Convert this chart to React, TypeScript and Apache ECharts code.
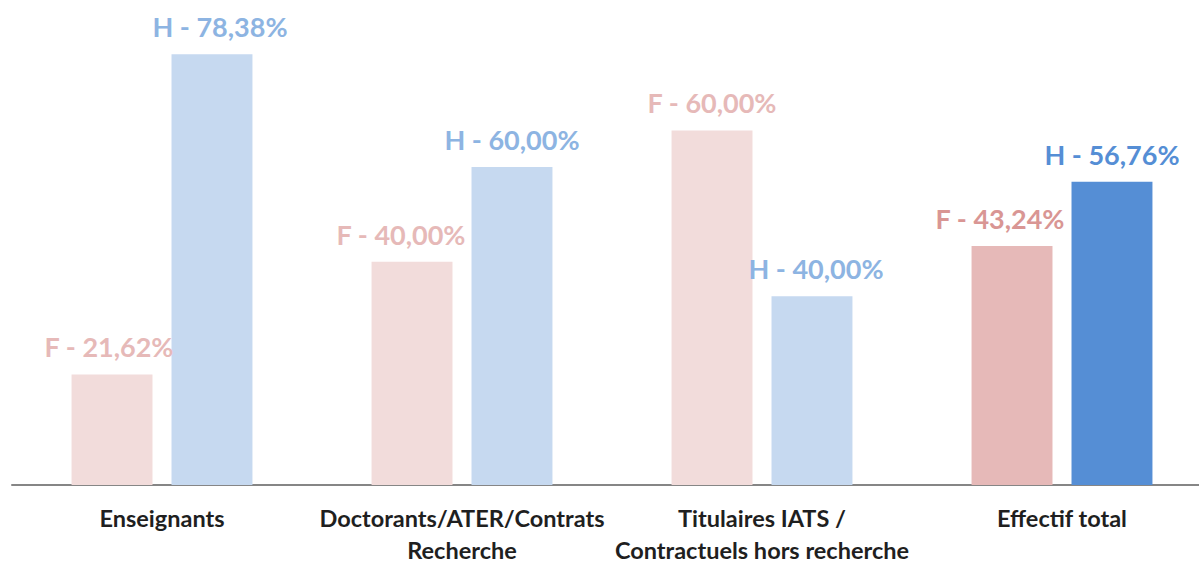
import React, { useEffect, useRef } from "react";
import * as echarts from "echarts";

const categories = [
  "Enseignants",
  "Doctorants/ATER/Contrats\nRecherche",
  "Titulaires IATS /\nContractuels hors recherche",
  "Effectif total",
];
// bar heights as drawn in the picture (chart units, 78.38 = tallest bar)
const femmesHeights = [20.13, 40.63, 64.54, 43.5];
const hommesHeights = [78.38, 57.89, 34.34, 55.19];
// printed labels
const femmesLabels = ["21,62%", "40,00%", "60,00%", "43,24%"];
const hommesLabels = ["78,38%", "60,00%", "40,00%", "56,76%"];

const F_BAR = "#f2dcdb";
const H_BAR = "#c6d9f0";
const F_BAR_TOTAL = "#e6b9b8";
const H_BAR_TOTAL = "#558ed5";
const F_LABEL = "#e6b9b8";
const H_LABEL = "#8db4e2";
const F_LABEL_TOTAL = "#d99694";
const H_LABEL_TOTAL = "#558ed5";

const fOffsets = [[-3, 0], [-11, 0], [0, 0], [-12, 0]];
const hOffsets = [[8, 0], [0, 0], [4, 0], [0, 0]];

export default function App() {
  const ref = useRef<HTMLDivElement>(null);
  useEffect(() => {
    if (!ref.current) return;
    const chart = echarts.init(ref.current, null, { renderer: "svg" });
    const last = categories.length - 1;
    const labelBase = {
      show: true,
      position: "top",
      distance: 14,
      fontFamily: "Lato",
      fontWeight: "bold",
      fontSize: 27,
    };
    chart.setOption({
      animation: false,
      grid: { left: 12, top: 0, right: 0, bottom: 75, containLabel: false },
      xAxis: {
        type: "category",
        data: categories,
        axisLine: { lineStyle: { color: "#868686", width: 2 } },
        axisTick: { show: false },
        axisLabel: {
          interval: 0,
          margin: 17,
          color: "#1f1f1f",
          fontFamily: "Lato",
          fontWeight: "bold",
          fontSize: 23.5,
          lineHeight: 32,
        },
      },
      yAxis: {
        type: "value",
        min: 0,
        max: 88.27,
        show: false,
        splitLine: { show: false },
      },
      series: [
        {
          name: "F",
          type: "bar",
          barGap: "23.5%",
          barCategoryGap: "39.7%",
          data: femmesHeights.map((v, i) => ({
            value: v,
            itemStyle: { color: i === last ? F_BAR_TOTAL : F_BAR },
            label: {
              ...labelBase,
              color: i === last ? F_LABEL_TOTAL : F_LABEL,
              offset: fOffsets[i],
              formatter: "F - " + femmesLabels[i],
            },
          })),
        },
        {
          name: "H",
          type: "bar",
          data: hommesHeights.map((v, i) => ({
            value: v,
            itemStyle: { color: i === last ? H_BAR_TOTAL : H_BAR },
            label: {
              ...labelBase,
              color: i === last ? H_LABEL_TOTAL : H_LABEL,
              offset: hOffsets[i],
              formatter: "H - " + hommesLabels[i],
            },
          })),
        },
      ],
    });
    return () => chart.dispose();
  }, []);
  return (
    <div
      style={{
        position: "fixed",
        left: 0,
        top: 0,
        width: 1199,
        height: 566,
        overflow: "hidden",
        background: "#fff",
      }}
    >
      <div ref={ref} style={{ width: 1212, height: 566 }} />
    </div>
  );
}
